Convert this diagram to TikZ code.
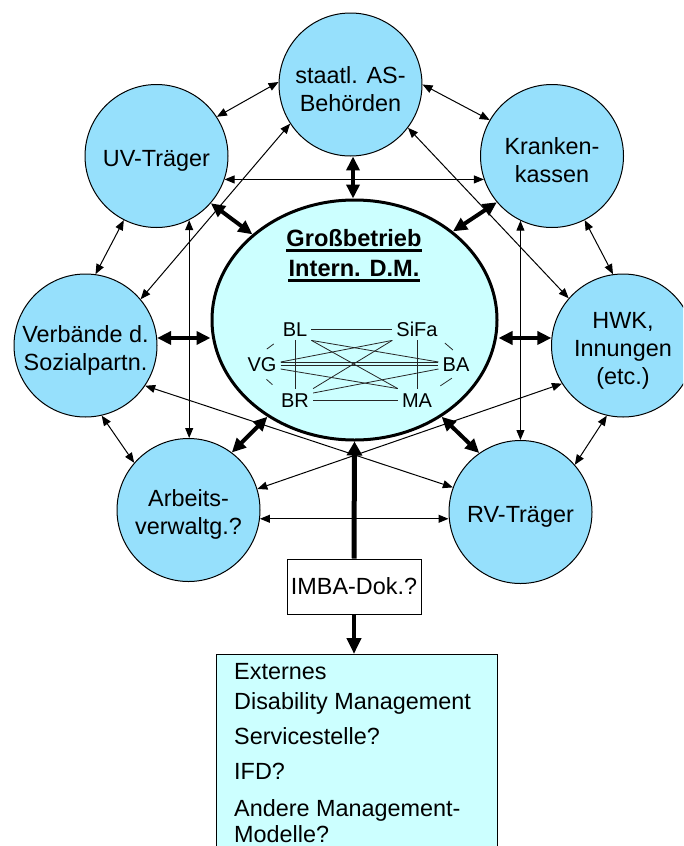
\documentclass[tikz,border=0pt]{standalone}
\usepackage{fontspec}
\setmainfont{Liberation Sans}
\usetikzlibrary{arrows.meta,shapes.geometric}
\definecolor{orgblue}{RGB}{150,224,252}
\definecolor{paleblue}{RGB}{204,255,255}
\newcommand{\topstrut}{\rule{0pt}{26pt}}

\begin{document}
\begin{tikzpicture}[x=1pt,y=-1pt,
  org/.style={circle,draw,line width=1pt,fill=orgblue,minimum size=143pt,inner sep=0pt,
    align=center,font=\fontsize{23.4}{28}\selectfont},
  role/.style={inner sep=4pt,text height=14.4pt,text depth=0pt,font=\fontsize{20}{24}\selectfont},
  link/.style={line width=1pt,{Triangle[length=10pt,width=8pt]}-{Triangle[length=10pt,width=8pt]}},
  biglink/.style={line width=4pt,{Triangle[length=14pt,width=13pt]}-{Triangle[length=14pt,width=13pt]}},
  tie/.style={line width=0.8pt,black!85},
  title/.style={anchor=base,inner sep=0pt,font=\bfseries\fontsize{23.6}{28}\selectfont},
  note/.style={anchor=base west,inner sep=0pt,font=\fontsize{23.4}{28}\selectfont},
]
\useasboundingbox (0,0) rectangle (683,846);
\clip (0,0) rectangle (683,846);

% partner organisations
\node[org] (as)  at (350.5,84.5) {\topstrut staatl. AS-\\Behörden};
\node[org] (uv)  at (156.5,156)  {\topstrut UV-Träger};
\node[org] (kk)  at (552,156)    {\topstrut Kranken-\\kassen};
\node[org] (vb)  at (85.5,345.5) {\topstrut Verbände d.\\Sozialpartn.};
\node[org] (hwk) at (623,345.5)  {\topstrut HWK,\\Innungen\\(etc.)};
\node[org] (av)  at (188.5,510)  {\topstrut Arbeits-\\verwaltg.?};
\node[org] (rv)  at (520.5,512)  {\topstrut RV-Träger};

% the company in the centre
\node[ellipse,draw,line width=3pt,fill=paleblue,minimum width=285pt,minimum height=240pt] (ell) at (354.5,320) {};
\node[title] (gb) at (354,246) {Großbetrieb};
\node[title] (idm) at (354,276) {Intern. D.M.};
\draw[line width=2.5pt] ([yshift=-4.5pt]gb.base west) -- ([yshift=-4.5pt]gb.base east);
\draw[line width=2.5pt] ([yshift=-4.5pt]idm.base west) -- ([yshift=-4.5pt]idm.base east);

% internal roles
\node[role] (bl)   at (295,329) {BL};
\node[role] (sifa) at (417,329) {SiFa};
\node[role] (vg)   at (262,364) {VG};
\node[role] (ba)   at (456,364) {BA};
\node[role] (br)   at (295,400) {BR};
\node[role] (ma)   at (417,400) {MA};

\draw[tie] (bl.east) -- (sifa.west);
\draw[tie] (bl.south) -- (br.north);
\draw[tie] (sifa.south) -- (ma.north);
\draw[tie] ([yshift=2pt]vg.east) -- (sifa.south west);
\draw[tie] ([yshift=1.5pt]vg.east) -- ([yshift=1.5pt]ba.west);
\draw[tie] ([yshift=-1.5pt]vg.east) -- ([yshift=-1.5pt]ba.west);
\draw[tie] ([yshift=-5pt]vg.east) -- (ma.north west);
\draw[tie] (bl.south east) -- ([yshift=2pt]ba.west);
\draw[tie] (bl.south east) -- (ma.north west);
\draw[tie] (sifa.south west) -- (br.north east);
\draw[tie] ([yshift=7pt]br.east) -- ([yshift=-5pt]ba.west);
\draw[tie] (br.east) -- (ma.west);
\draw[tie,shorten <=6pt,shorten >=6pt] (vg.north) -- (bl.south west);
\draw[tie,shorten <=6pt,shorten >=6pt] (vg.south) -- (br.north west);
\draw[tie,shorten <=4pt,shorten >=4pt] (sifa.south east) -- (ba.north);
\draw[tie,shorten <=5pt,shorten >=5pt] (ma.north east) -- (ba.south);

% documentation and external management
\node[draw,line width=1pt,fill=white,minimum width=134pt,minimum height=55pt,inner sep=0pt,
  font=\fontsize{23.4}{28}\selectfont] (imba) at (354,586.5) {IMBA-Dok.?};
\node[draw,line width=1pt,fill=paleblue,minimum width=281pt,minimum height=260pt,anchor=north] (ext) at (356.5,654) {};
\node[note] (e1) at (234,679) {Externes};
\node[note] (e2) at (234,709) {Disability Management};
\node[note] (e3) at (234,744) {Servicestelle?};
\node[note] (e4) at (234,779) {IFD?};
\node[note] (e5) at (234,816) {Andere Management-};
\node[note] (e6) at (234,842) {Modelle?};

% links between the partners
\draw[link] (uv.33) -- (as.178);
\draw[link] (as.0) -- (kk.150);
\draw[link] (uv.-19.6) -- (kk.199.6);
\draw[link] (as.213) -- (vb.40);
\draw[link] (as.-37.7) -- (hwk.139);
\draw[link] (uv.243) -- (vb.82.5);
\draw[link] (uv.-63) -- (uv.-63 |- av.north);
\draw[link] (kk.-63.4) -- (hwk.98);
\draw[link] (kk.-116.6) -- (kk.-116.6 |- rv.north);
\draw[link] (vb.-77) -- (av.139.7);
\draw[link] (vb.-34) -- (rv.160);
\draw[link] (hwk.212) -- (av.17);
\draw[link] (rv.41) -- (hwk.257.6);
\draw[link] (av.-7) -- (av.-7 -| rv.west);

% links to the company
\draw[biglink] (as.-88) -- (as.-88 |- ell.north);
\draw[biglink] (uv.-41.5) -- (ell.140);
\draw[biglink] (kk.-140) -- (ell.42.3);
\draw[biglink] (vb.6) -- (vb.6 -| ell.west);
\draw[biglink] (hwk.174) -- (hwk.174 -| ell.east);
\draw[biglink] (av.53) -- (ell.228);
\draw[biglink] (rv.125.4) -- (ell.-48);
\draw[line width=5pt,-{Triangle[length=14pt,width=15pt]}] (imba.north) -- (ell.south);
\draw[line width=4pt,-{Triangle[length=16pt,width=14pt]}] (imba.south) -- (imba.south |- ext.north);
\end{tikzpicture}
\end{document}
